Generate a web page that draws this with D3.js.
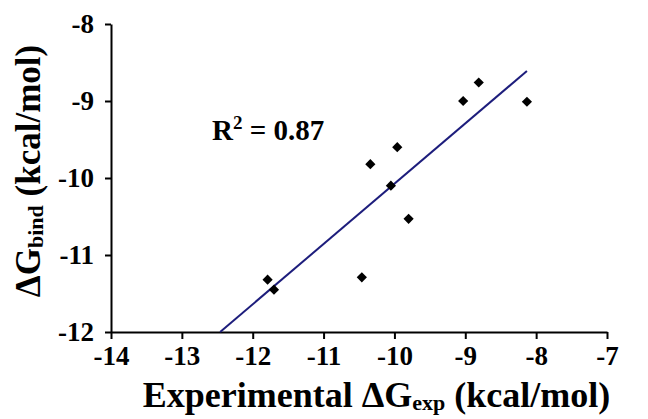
<!DOCTYPE html>
<html>
<head>
<meta charset="utf-8">
<script src="https://cdn.jsdelivr.net/npm/d3@7"></script>
<style>
  body { margin: 0; background: #fff; }
  text { font-family: "Liberation Serif", "Times New Roman", serif; font-weight: bold; fill: #000; }
  .tick text { font-size: 27px; }
</style>
</head>
<body>
<div id="main"></div>
<script>
// experimental vs computed binding free energy (kcal/mol)
var expDG  = [-11.79, -11.70, -10.46, -10.34, -9.96, -10.05, -9.80, -9.03, -8.81, -8.13];
var bindDG = [-11.32, -11.45, -11.29, -9.82, -9.60, -10.10, -10.53, -9.00, -8.76, -9.01];
// trendline end points as drawn
var fitX = [-12.46, -8.13];
var fitY = [-12.0, -8.61];
var xTicks = [-14, -13, -12, -11, -10, -9, -8, -7];
var yTicks = [-12, -11, -10, -9, -8];
var r2Label = "0.87";

var ctx = {w: 648, h: 419, left: 111, right: 607, top: 24, bottom: 332};

var svg = d3.select("#main").append("svg")
  .attr("width", ctx.w).attr("height", ctx.h);

var x = d3.scaleLinear().domain([-14, -7]).range([ctx.left, ctx.right]);
var y = d3.scaleLinear().domain([-12, -8]).range([ctx.bottom, ctx.top]);

// axes
var xAxis = svg.append("g")
  .attr("transform", `translate(0,${ctx.bottom})`)
  .call(d3.axisBottom(x).tickValues(xTicks).tickSize(7).tickSizeOuter(0).tickPadding(7));
var yAxis = svg.append("g")
  .attr("transform", `translate(${ctx.left},0)`)
  .call(d3.axisLeft(y).tickValues(yTicks).tickSize(6).tickSizeOuter(0).tickPadding(11));

[xAxis, yAxis].forEach(function(g){
  g.select(".domain").attr("stroke", "#000").attr("stroke-width", 2);
  g.selectAll(".tick line").attr("stroke", "#000").attr("stroke-width", 2);
  g.selectAll(".tick text").text(function(d){ return "-" + Math.abs(d); });
});

// trendline
svg.append("line")
  .attr("x1", x(fitX[0])).attr("y1", y(fitY[0]))
  .attr("x2", x(fitX[1])).attr("y2", y(fitY[1]))
  .attr("stroke", "#1d1d7c").attr("stroke-width", 2);

// points as diamonds
var diamond = d3.symbol().type(d3.symbolSquare).size(52);
svg.append("g").selectAll("path")
  .data(d3.range(expDG.length))
  .enter().append("path")
  .attr("d", diamond())
  .attr("fill", "#000")
  .attr("transform", function(i){
    return `translate(${x(expDG[i])},${y(bindDG[i])}) rotate(45)`;
  });

// R^2 annotation
var r2 = svg.append("text").attr("x", 212).attr("y", 140).style("font-size", "29px");
r2.append("tspan").text("R");
r2.append("tspan").attr("dy", -11).style("font-size", "19px").text("2");
r2.append("tspan").attr("dy", 11).text(" = " + r2Label);

// x axis title
var xt = svg.append("text").attr("x", (143 + 610) / 2).attr("y", 407)
  .attr("text-anchor", "middle").style("font-size", "36px");
xt.append("tspan").text("Experimental \u0394G");
xt.append("tspan").attr("dy", 3).style("font-size", "22px").text("exp");
xt.append("tspan").attr("dy", -3).text(" (kcal/mol)");

// y axis title
var yt = svg.append("text").attr("transform", "translate(40,171) rotate(-90)")
  .attr("text-anchor", "middle").style("font-size", "35px");
yt.append("tspan").text("\u0394G");
yt.append("tspan").attr("dy", 3).style("font-size", "22px").text("bind");
yt.append("tspan").attr("dy", -3).text(" (kcal/mol)");
</script>
</body>
</html>
